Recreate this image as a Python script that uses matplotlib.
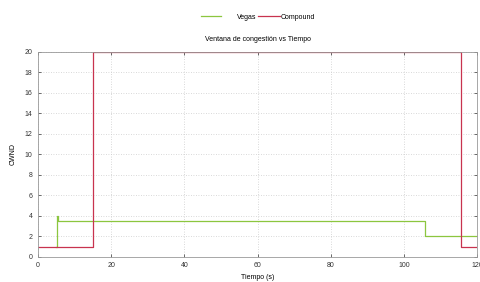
import matplotlib
matplotlib.use('Agg')
import matplotlib.pyplot as plt

plt.rcParams['font.family'] = ['Liberation Sans', 'DejaVu Sans']

# datos
vegas_t = [4.9, 5.2, 5.4, 105.7, 120]
vegas_w = [1, 4, 3.5, 2, 2]
compound_t = [0, 15.1, 115.6, 120]
compound_w = [1, 20, 1, 1]
xticks = [0, 20, 40, 60, 80, 100, 120]
yticks = [0, 2, 4, 6, 8, 10, 12, 14, 16, 18, 20]

fs = 5

fig = plt.figure(figsize=(4.81, 2.82), dpi=100)
ax = fig.add_axes([0.079, 0.089, 0.913, 0.727])

l1, = ax.plot(vegas_t, vegas_w, drawstyle='steps-post', color='#8cc63f', lw=0.9, label='Vegas')
l2, = ax.plot(compound_t, compound_w, drawstyle='steps-post', color='#c8334f', lw=0.9, label='Compound')

ax.set_xlim(0, 120)
ax.set_ylim(0, 20)
ax.set_xticks(xticks)
ax.set_yticks(yticks)
ax.tick_params(direction='in', length=2, width=0.5, labelsize=fs, colors='#333333',
               top=True, right=True, pad=4)
ax.grid(True, color='#cccccc', linestyle=(0, (1, 2)), lw=0.6)
for s in ax.spines.values():
    s.set_color('#999999')
    s.set_linewidth(0.6)

ax.set_xlabel('Tiempo (s)', fontsize=fs, labelpad=3)
ax.set_ylabel('CWND', fontsize=fs, labelpad=6)
ax.set_title('Ventana de congestión vs Tiempo', fontsize=fs, pad=8)

# leyenda arriba: dos entradas con separaciones distintas
fig.legend(handles=[l1], loc='upper left', bbox_to_anchor=(0.413, 0.958), frameon=False,
           fontsize=fs, handlelength=2.9, handletextpad=2.3, borderaxespad=0, borderpad=0.3)
fig.legend(handles=[l2], loc='upper left', bbox_to_anchor=(0.532, 0.958), frameon=False,
           fontsize=fs, handlelength=3.1, handletextpad=0.2, borderaxespad=0, borderpad=0.3)

fig.savefig('out.png', dpi=100)
